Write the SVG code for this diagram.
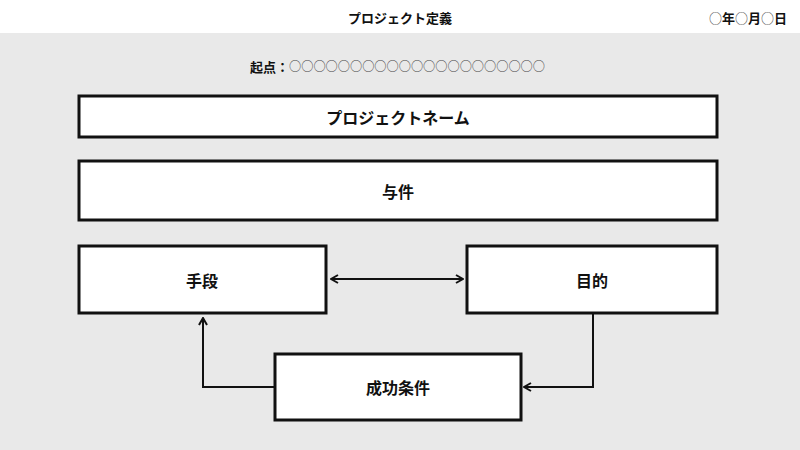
<svg xmlns="http://www.w3.org/2000/svg" width="800" height="450" viewBox="0 0 800 450">
<style>
text{font-family:"Noto Sans CJK JP","Noto Sans",sans-serif;fill:#111}
.box{fill:#fff;stroke:#111;stroke-width:3}
.lbl{font-size:16px;font-weight:bold;text-anchor:middle;dominant-baseline:central}
.con{fill:none;stroke:#111;stroke-width:2}
.c{font-weight:normal;fill:#444}
</style>
<defs>
<marker id="ah" viewBox="0 0 10 10" refX="9" refY="5" markerWidth="10" markerHeight="10" markerUnits="userSpaceOnUse" orient="auto-start-reverse">
<path d="M2,1 L9,5 L2,9" fill="none" stroke="#111" stroke-width="2"/>
</marker>
</defs>
<rect x="0" y="0" width="800" height="33" fill="#fff"/>
<rect x="0" y="33" width="800" height="417" fill="#e9e9e9"/>
<text x="400" y="17" font-size="13" font-weight="bold" text-anchor="middle" dominant-baseline="central">プロジェクト定義</text>
<text x="787" y="17" font-size="13" font-weight="bold" text-anchor="end" dominant-baseline="central"><tspan class="c">○</tspan>年<tspan class="c">○</tspan>月<tspan class="c">○</tspan>日</text>
<text x="250" y="66" font-size="13" dominant-baseline="central"><tspan font-weight="bold">起点：</tspan><tspan class="c" font-size="12.2">○○○○○○○○○○○○○○○○○○○○○</tspan></text>
<g id="name"><rect class="box" x="79" y="96" width="638" height="41"/><text class="lbl" x="398" y="116.5">プロジェクトネーム</text></g>
<g id="yoken"><rect class="box" x="79" y="161" width="638" height="59"/><text class="lbl" x="398" y="190.5">与件</text></g>
<g id="shudan"><rect class="box" x="79" y="246" width="247" height="67"/><text class="lbl" x="202" y="279.5">手段</text></g>
<g id="mokuteki"><rect class="box" x="467" y="246" width="250" height="67"/><text class="lbl" x="592" y="279.5">目的</text></g>
<g id="seiko"><rect class="box" x="275" y="354" width="246" height="66"/><text class="lbl" x="398" y="387">成功条件</text></g>
<g id="connectors">
<line class="con" x1="331" y1="279" x2="463" y2="279" marker-start="url(#ah)" marker-end="url(#ah)"/>
<polyline class="con" points="275,387 203,387 203,318" marker-end="url(#ah)"/>
<polyline class="con" points="593,313 593,387 524,387" marker-end="url(#ah)"/>
</g>
</svg>
